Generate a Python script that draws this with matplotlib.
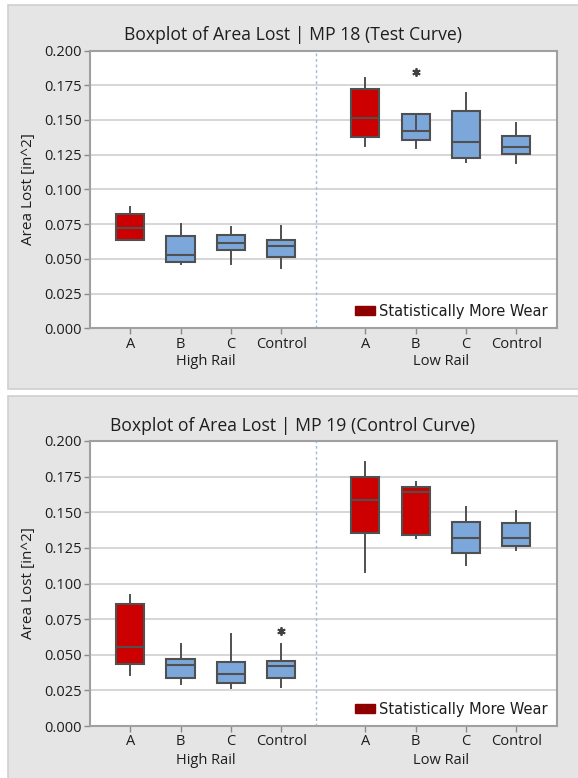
import matplotlib
matplotlib.use("Agg")
import matplotlib.pyplot as plt
from matplotlib.patches import Rectangle, Patch

plt.rcParams['font.family'] = ['Open Sans', 'DejaVu Sans']

# Category labels and grouping
categories = ["A", "B", "C", "Control", "A", "B", "C", "Control"]
groups = ["High Rail", "Low Rail"]
positions = [0, 1, 2, 3, 4.67, 5.67, 6.67, 7.67]

# MP 18 (Test Curve): whisker low, Q1, median, Q3, whisker high, outliers
mp18_whislo = [0.0637, 0.0462, 0.0464, 0.0435, 0.1309, 0.1300, 0.1200, 0.1188]
mp18_q1     = [0.0637, 0.0476, 0.0563, 0.0512, 0.1375, 0.1356, 0.1229, 0.1253]
mp18_med    = [0.0721, 0.0529, 0.0613, 0.0589, 0.1514, 0.1419, 0.1341, 0.1302]
mp18_q3     = [0.0820, 0.0661, 0.0675, 0.0637, 0.1726, 0.1541, 0.1563, 0.1387]
mp18_whishi = [0.0873, 0.0750, 0.0726, 0.0740, 0.1804, 0.1436, 0.1692, 0.1480]
mp18_fliers = [[], [], [], [], [], [0.1845], [], []]
mp18_highlight = [True, False, False, False, True, False, False, False]

# MP 19 (Control Curve)
mp19_whislo = [0.0361, 0.0298, 0.0265, 0.0276, 0.1078, 0.1317, 0.1127, 0.1235]
mp19_q1     = [0.0436, 0.0337, 0.0305, 0.0337, 0.1356, 0.1342, 0.1211, 0.1260]
mp19_med    = [0.0555, 0.0431, 0.0366, 0.0422, 0.1584, 0.1642, 0.1321, 0.1321]
mp19_q3     = [0.0853, 0.0469, 0.0448, 0.0459, 0.1750, 0.1680, 0.1429, 0.1422]
mp19_whishi = [0.0918, 0.0574, 0.0647, 0.0572, 0.1851, 0.1710, 0.1539, 0.1506]
mp19_fliers = [[], [], [], [0.0668], [], [], [], []]
mp19_highlight = [True, False, False, False, True, True, False, False]

yticks = [0.000, 0.025, 0.050, 0.075, 0.100, 0.125, 0.150, 0.175, 0.200]

RED = "#cc0000"
BLUE = "#7ba7da"
EDGE = "#505050"
TEXT = "#1e1e1e"
PANEL = "#e5e5e5"

W, H = 578, 778
fig = plt.figure(figsize=(W / 100, H / 100), dpi=100)
fig.patch.set_facecolor("white")


def px_rect(x0, y0, x1, y1):
    """Convert a pixel box (top-left origin) to figure fraction [l, b, w, h]."""
    return [x0 / W, 1 - y1 / H, (x1 - x0) / W, (y1 - y0) / H]


def draw_panel(frame_box, plot_box, title, whislo, q1, med, q3, whishi, fliers, hl):
    l, b, w, h = px_rect(*frame_box)
    fig.patches.append(Rectangle((l, b), w, h, transform=fig.transFigure,
                                 facecolor=PANEL, edgecolor="#cfcfcf", lw=1.2, zorder=-5))
    ax = fig.add_axes(px_rect(*plot_box), zorder=2)
    ax.set_facecolor("white")

    stats = []
    for i in range(len(categories)):
        stats.append(dict(whislo=whislo[i], q1=q1[i], med=med[i], q3=q3[i],
                          whishi=whishi[i], fliers=fliers[i]))
    bp = ax.bxp(stats, positions=positions, widths=0.56, patch_artist=True,
                showcaps=False, showfliers=True,
                boxprops=dict(edgecolor=EDGE, linewidth=1.5),
                whiskerprops=dict(color=EDGE, linewidth=1.4, zorder=3),
                medianprops=dict(color=EDGE, linewidth=1.5),
                flierprops=dict(marker=(6, 2, 0), markersize=6, markeredgecolor="#404040",
                                markeredgewidth=1.3, linestyle="none"))
    for box, red in zip(bp["boxes"], hl):
        box.set_facecolor(RED if red else BLUE)

    ax.set_ylim(0, 0.2)
    ax.set_xlim(-0.8, 8.48)
    ax.set_yticks(yticks)
    ax.set_yticklabels([f"{v:.3f}" for v in yticks])
    ax.set_xticks(positions)
    ax.set_xticklabels(categories)
    for v in yticks[1:-1]:
        ax.axhline(v, color="#d6d6d6", lw=1.4, zorder=0.5)
    ax.axvline(3.7, color="#9dbbe0", lw=1.0, ls=(0, (2, 2)), zorder=0.6)

    ax.tick_params(axis="both", colors="#8a8a8a", labelcolor=TEXT, labelsize=10.5,
                   length=4, width=1.0, direction="out", pad=2)
    for s in ax.spines.values():
        s.set_color("#a0a0a0")
        s.set_linewidth(1.5)

    ax.set_ylabel("Area Lost [in^2]", fontsize=11, color=TEXT, labelpad=6)
    ax.text(1.5, -0.12, groups[0], transform=ax.get_xaxis_transform(),
            ha="center", va="center", fontsize=10.5, color=TEXT)
    ax.text(6.17, -0.12, groups[1], transform=ax.get_xaxis_transform(),
            ha="center", va="center", fontsize=10.5, color=TEXT)

    leg = ax.legend(handles=[Patch(facecolor="#8e0000", edgecolor="#8e0000",
                                   label="Statistically More Wear")],
                    loc="lower right", frameon=False,
                    handlelength=1.4, handleheight=0.5, handletextpad=0.25,
                    borderaxespad=0.25, prop=dict(family="DejaVu Sans", size=10.5))
    for t in leg.get_texts():
        t.set_color(TEXT)

    tx = (frame_box[0] + W) / 2 / W
    ty = 1 - (frame_box[1] + 30) / H
    fig.text(tx, ty, title, ha="center", va="center", fontsize=12.7, color=TEXT)
    return ax


draw_panel((8, 5, 590, 389), (90, 50.5, 557, 328.3),
           "Boxplot of Area Lost | MP 18 (Test Curve)",
           mp18_whislo, mp18_q1, mp18_med, mp18_q3, mp18_whishi, mp18_fliers, mp18_highlight)
draw_panel((8, 396, 590, 790), (90, 441, 557, 726),
           "Boxplot of Area Lost | MP 19 (Control Curve)",
           mp19_whislo, mp19_q1, mp19_med, mp19_q3, mp19_whishi, mp19_fliers, mp19_highlight)

fig.savefig("out.png", dpi=100, facecolor=fig.get_facecolor())
